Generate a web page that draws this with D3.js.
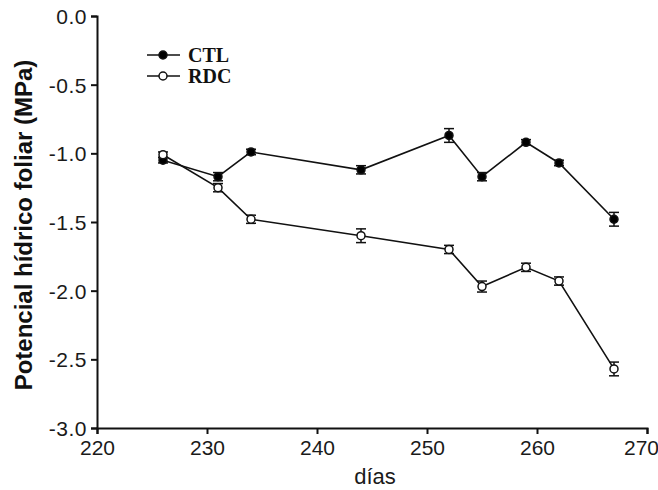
<!DOCTYPE html>
<html>
<head>
<meta charset="utf-8">
<script src="https://cdn.jsdelivr.net/npm/d3@7"></script>
<style>
  body { margin: 0; background: #fff; }
</style>
</head>
<body>
<div id="chart"></div>
<script>
const width = 658, height = 490;
const margin = {top: 16, right: 11, bottom: 62, left: 97};

// data
const days = [226, 231, 234, 244, 252, 255, 259, 262, 267];
const ctl = [-1.05, -1.17, -0.99, -1.12, -0.87, -1.17, -0.92, -1.07, -1.48];
const ctlErr = [0.02, 0.03, 0.02, 0.03, 0.05, 0.03, 0.02, 0.02, 0.05];
const rdc = [-1.01, -1.25, -1.48, -1.60, -1.70, -1.97, -1.83, -1.93, -2.57];
const rdcErr = [0.02, 0.03, 0.03, 0.05, 0.03, 0.04, 0.03, 0.03, 0.05];
const xTicks = [220, 230, 240, 250, 260, 270];
const yTicks = [0, -0.5, -1.0, -1.5, -2.0, -2.5, -3.0];

const series = [
  {name: "CTL", values: ctl, err: ctlErr, fill: "#000"},
  {name: "RDC", values: rdc, err: rdcErr, fill: "#fff"}
];

const svg = d3.select("#chart")
  .append("svg")
    .attr("width", width)
    .attr("height", height);

const xScale = d3.scaleLinear()
  .domain([220, 270])
  .range([margin.left, width - margin.right]);

const yScale = d3.scaleLinear()
  .domain([-3, 0])
  .range([height - margin.bottom, margin.top]);

// axes
const xAxis = svg.append("g")
  .attr("transform", `translate(0, ${height - margin.bottom})`)
  .call(d3.axisBottom(xScale).tickValues(xTicks).tickSize(6).tickPadding(6).tickFormat(d3.format("d")));

// plain hyphen instead of the unicode minus
const yFmt = d => d.toFixed(1).replace("−", "-");

const yAxis = svg.append("g")
  .attr("transform", `translate(${margin.left}, 0)`)
  .call(d3.axisLeft(yScale).tickValues(yTicks).tickSize(6).tickPadding(4).tickFormat(yFmt));

[xAxis, yAxis].forEach(ax => {
  ax.select(".domain").attr("stroke", "#111").attr("stroke-width", 2);
  ax.selectAll(".tick line").attr("stroke", "#111").attr("stroke-width", 2);
  ax.selectAll(".tick text")
    .attr("fill", "#1a1a1a")
    .style("font-family", "'Liberation Sans', Arial, sans-serif");
});
xAxis.selectAll(".tick text").style("font-size", "21px");
xAxis.selectAll(".tick text")
  .filter(d => d === 270)
  .attr("dx", "-6");
yAxis.selectAll(".tick text")
  .style("font-size", "21px")
  .style("letter-spacing", "0.5px")
  .attr("dy", "0.36em");

// axis titles
svg.append("text")
  .text("días")
  .attr("x", 375)
  .attr("y", 484)
  .attr("text-anchor", "middle")
  .attr("fill", "#1a1a1a")
  .style("font-family", "'Liberation Sans', Arial, sans-serif")
  .style("font-size", "22px");

svg.append("text")
  .text("Potencial hídrico foliar (MPa)")
  .attr("transform", `translate(32, 225) rotate(-90)`)
  .attr("text-anchor", "middle")
  .attr("fill", "#111")
  .style("font-family", "'Liberation Sans', Arial, sans-serif")
  .style("font-weight", "bold")
  .style("font-size", "24px");

// lines, error bars and markers
const line = d3.line()
  .x((d, i) => xScale(days[i]))
  .y(d => yScale(d));

series.forEach(s => {
  const g = svg.append("g");

  g.append("path")
    .datum(s.values)
    .attr("d", line)
    .attr("fill", "none")
    .attr("stroke", "#111")
    .attr("stroke-width", 1.6);

  const bars = g.selectAll(".err")
    .data(s.values.map((v, i) => ({x: days[i], v: v, e: s.err[i]})))
    .join("g");

  bars.append("line")
    .attr("x1", d => xScale(d.x)).attr("x2", d => xScale(d.x))
    .attr("y1", d => yScale(d.v + d.e)).attr("y2", d => yScale(d.v - d.e))
    .attr("stroke", "#111").attr("stroke-width", 1.5);

  [1, -1].forEach(sign => {
    bars.append("line")
      .attr("x1", d => xScale(d.x) - 5).attr("x2", d => xScale(d.x) + 5)
      .attr("y1", d => yScale(d.v + sign * d.e)).attr("y2", d => yScale(d.v + sign * d.e))
      .attr("stroke", "#111").attr("stroke-width", 1.5);
  });

  g.selectAll("circle")
    .data(s.values)
    .join("circle")
      .attr("cx", (d, i) => xScale(days[i]))
      .attr("cy", d => yScale(d))
      .attr("r", 4)
      .attr("fill", s.fill)
      .attr("stroke", "#111")
      .attr("stroke-width", 1.5);
});

// legend
const legend = svg.append("g")
  .attr("transform", "translate(147, 55)");

series.forEach((s, i) => {
  const row = legend.append("g")
    .attr("transform", `translate(0, ${i * 21})`);
  row.append("line")
    .attr("x1", 0).attr("x2", 33)
    .attr("stroke", "#111").attr("stroke-width", 1.6);
  row.append("circle")
    .attr("cx", 16).attr("r", 4)
    .attr("fill", s.fill)
    .attr("stroke", "#111").attr("stroke-width", 1.5);
  row.append("text")
    .text(s.name)
    .attr("x", 41)
    .attr("y", 7)
    .attr("fill", "#111")
    .style("font-family", "'Liberation Serif', 'Times New Roman', serif")
    .style("font-weight", "bold")
    .style("font-size", "20px");
});
</script>
</body>
</html>
